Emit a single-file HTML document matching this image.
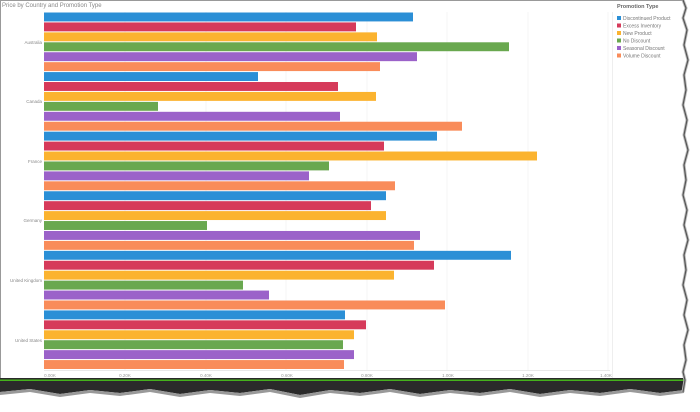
<!DOCTYPE html><html><head><style>body{margin:0;width:700px;height:407px;overflow:hidden;background:#fff;font-family:"Liberation Sans",sans-serif}</style></head><body>
<svg width="700" height="407" xmlns="http://www.w3.org/2000/svg" font-family="Liberation Sans, sans-serif">
<line x1="0.5" y1="0" x2="0.5" y2="380" stroke="#999"/>
<line x1="0" y1="0.5" x2="684" y2="0.5" stroke="#999"/>
<text x="2" y="7" font-size="6" fill="#888">Price by Country and Promotion Type</text>
<g stroke="#eee" stroke-width="0.6">
<line x1="125" y1="12" x2="125" y2="370"/><line x1="206" y1="12" x2="206" y2="370"/><line x1="286" y1="12" x2="286" y2="370"/><line x1="367" y1="12" x2="367" y2="370"/><line x1="447" y1="12" x2="447" y2="370"/><line x1="528" y1="12" x2="528" y2="370"/><line x1="608" y1="12" x2="608" y2="370"/>
</g>
<line x1="44" y1="370.5" x2="610" y2="370.5" stroke="#e8e8e8"/>
<g id="bars"></g>
<g font-size="4.5" fill="#888" text-anchor="end">
<text x="42" y="44">Australia</text><text x="42" y="103">Canada</text><text x="42" y="163">France</text><text x="42" y="222">Germany</text><text x="42" y="282">United Kingdom</text><text x="42" y="342">United States</text>
</g>
<g font-size="4.5" fill="#999" text-anchor="middle">
<text x="50" y="377">0.00K</text><text x="125" y="377">0.20K</text><text x="206" y="377">0.40K</text><text x="287" y="377">0.60K</text><text x="367" y="377">0.80K</text><text x="448" y="377">1.00K</text><text x="528" y="377">1.20K</text><text x="606" y="377">1.40K</text>
</g>
<line x1="612.5" y1="12" x2="612.5" y2="378" stroke="#eee"/>
<text x="617" y="8" font-size="5.5" font-weight="bold" fill="#666">Promotion Type</text>
<g font-size="5" fill="#777">
<rect x="617" y="16" width="4" height="4" fill="#2b8fd6"/><text x="623" y="20">Discontinued Product</text>
<rect x="617" y="23.5" width="4" height="4" fill="#d63a5a"/><text x="623" y="27.5">Excess Inventory</text>
<rect x="617" y="31" width="4" height="4" fill="#fbb32f"/><text x="623" y="35">New Product</text>
<rect x="617" y="38.5" width="4" height="4" fill="#69a84f"/><text x="623" y="42.5">No Discount</text>
<rect x="617" y="46" width="4" height="4" fill="#9b62c9"/><text x="623" y="50">Seasonal Discount</text>
<rect x="617" y="53.5" width="4" height="4" fill="#f98c5a"/><text x="623" y="57.5">Volume Discount</text>
</g>
<polygon points="0,378 684,378 684,390 660,393 630,389 600,393 570,390 540,394 510,389 480,393 450,390 420,394 390,389 360,393 330,390 300,395 270,389 240,393 210,390 180,394 150,389 120,393 90,390 60,394 30,389 0,392" fill="#2a2a2a"/>
<polygon points="0,392 30,389 60,394 90,390 120,393 150,389 180,394 210,390 240,393 270,389 300,395 330,390 360,393 390,389 420,394 450,390 480,393 510,389 540,394 570,390 600,393 630,389 660,393 684,390 684,393 660,396 630,392 600,396 570,393 540,397 510,392 480,396 450,393 420,397 390,392 360,396 330,393 300,398 270,392 240,396 210,393 180,397 150,392 120,396 90,393 60,397 30,392 0,395" fill="#999"/>
<rect x="0" y="379.6" width="684" height="1.2" fill="#4cd41a"/>
<polyline points="683,0 686,8 683,18 687,30 684,45 688,60 684,75 686,90 683,105 687,120 684,135 688,150 684,165 686,180 683,195 687,210 684,225 688,240 684,255 686,270 683,285 687,300 684,315 688,330 684,345 686,360 683,372 685,380 683,392" fill="none" stroke="#bbb" stroke-width="3"/>
<polyline points="683,0 686,8 683,18 687,30 684,45 688,60 684,75 686,90 683,105 687,120 684,135 688,150 684,165 686,180 683,195 687,210 684,225 688,240 684,255 686,270 683,285 687,300 684,315 688,330 684,345 686,360 683,372 685,380 683,392" fill="none" stroke="#555" stroke-width="1.2"/>
</svg>
<script>
var c=["#2b8fd6","#d63a5a","#fbb32f","#69a84f","#9b62c9","#f98c5a"];
var d=[[413,356,377,509,417,380],[258,338,376,158,340,462],[437,384,537,329,309,395],[386,371,386,207,420,414],[511,434,394,243,269,445],[345,366,354,343,354,344]];
var g=document.getElementById("bars"),s="",h=357.5/36;
for(var i=0;i<6;i++)for(var j=0;j<6;j++){var y=12+(i*6+j)*h;s+='<rect x="44" y="'+(y+0.5).toFixed(2)+'" width="'+(d[i][j]-44)+'" height="'+(h-1).toFixed(2)+'" fill="'+c[j]+'"/>';}
g.innerHTML=s;
</script>
</body></html>
